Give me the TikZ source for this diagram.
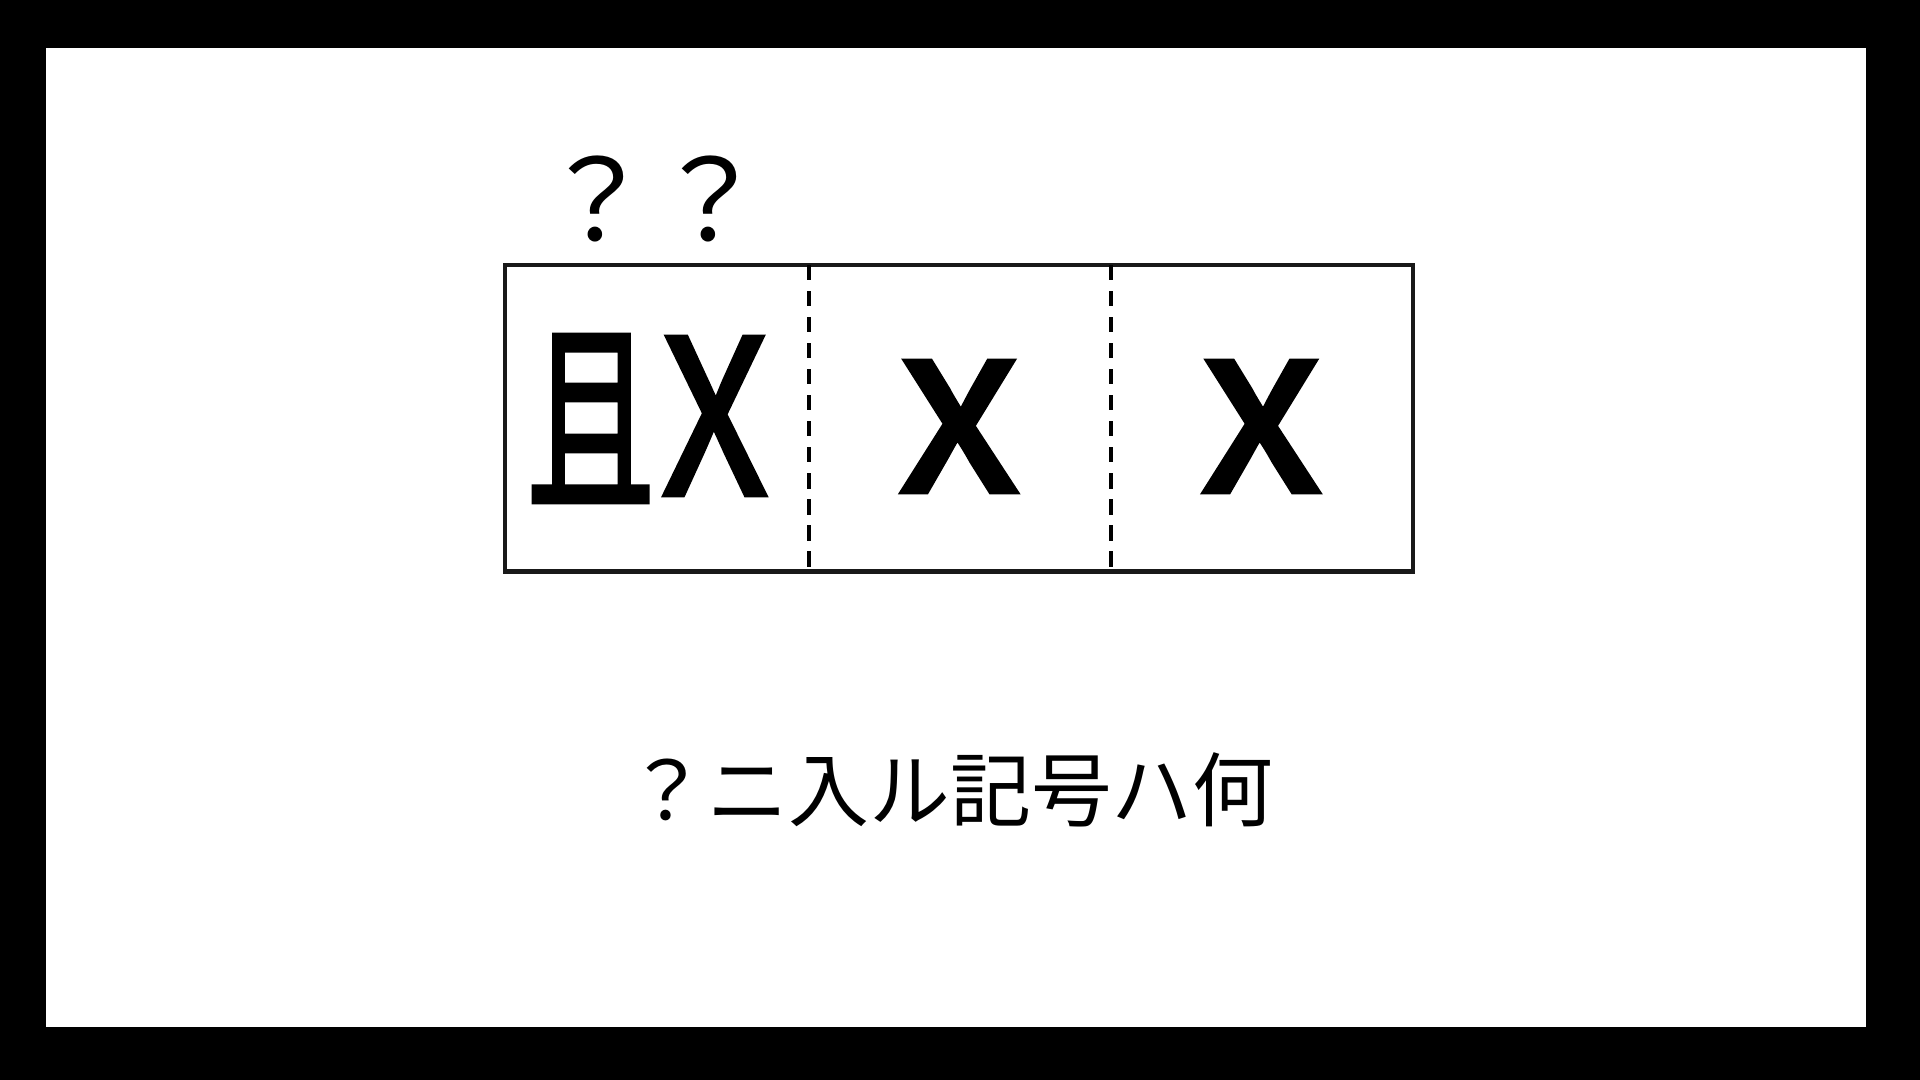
\documentclass[tikz,border=0pt]{standalone}
\usepackage{fontspec}
\newfontfamily\cjk{Noto Sans CJK JP}
\newfontfamily\cjkheavy{Noto Sans CJK JP}[FakeBold=2.5]
\usetikzlibrary{shapes}

\begin{document}
\begin{tikzpicture}
	  [x=0.01cm, y=-0.01cm, node distance = 3.02cm,
	  %
	  cell/.style={rectangle, minimum width=3.02cm, minimum height=3.05cm, inner sep=0pt, font=\cjkheavy},
	  %
	  frameline/.style={draw = black!90, line width=1.3pt},
	  %
	  dividerline/.style={draw = black, line width=1.15pt, dash pattern=on 4.3pt off 3.1pt}]

	    % black surround and white page
	    \fill [black] (0,0) rectangle (1920,1080);
	    \fill [white] (46,48) rectangle (1866,1027);

	    \node [cell] (cellA) at (657,418.5) {};
	    \node [cell, right of=cellA] (cellB) {};
	    \node [cell, right of=cellB] (cellC) {};
	    \node [font=\cjkheavy, yshift=0.0cm, xshift=-0.1cm] at (cellA) {\fontsize{58}{58}\selectfont\scalebox{0.63}[1]{且}\hspace{0.07cm}\scalebox{0.86}[1]{\fontsize{61}{61}\selectfont X}};
	    \node [font=\cjkheavy\fontsize{68}{68}\selectfont, yshift=-0.08cm] at (cellB) {x};
	    \node [font=\cjkheavy\fontsize{68}{68}\selectfont, yshift=-0.08cm] at (cellC) {x};
	    \node [above of=cellA, yshift=-0.83cm, xshift=-0.04cm, font=\cjk\fontsize{32}{32}\selectfont] (marks) {？？};
	    \node [below of=cellB, yshift=-0.69cm, xshift=-0.09cm, font=\cjk\fontsize{23}{23}\selectfont] (question) {？ニ入ル記号ハ何};

	    \draw [frameline] (cellA.north west) rectangle (cellC.south east);
	    \draw [dividerline] (cellA.north east) -- (cellA.south east);
	    \draw [dividerline] (cellB.north east) -- (cellB.south east);
	  \end{tikzpicture}
\end{document}
